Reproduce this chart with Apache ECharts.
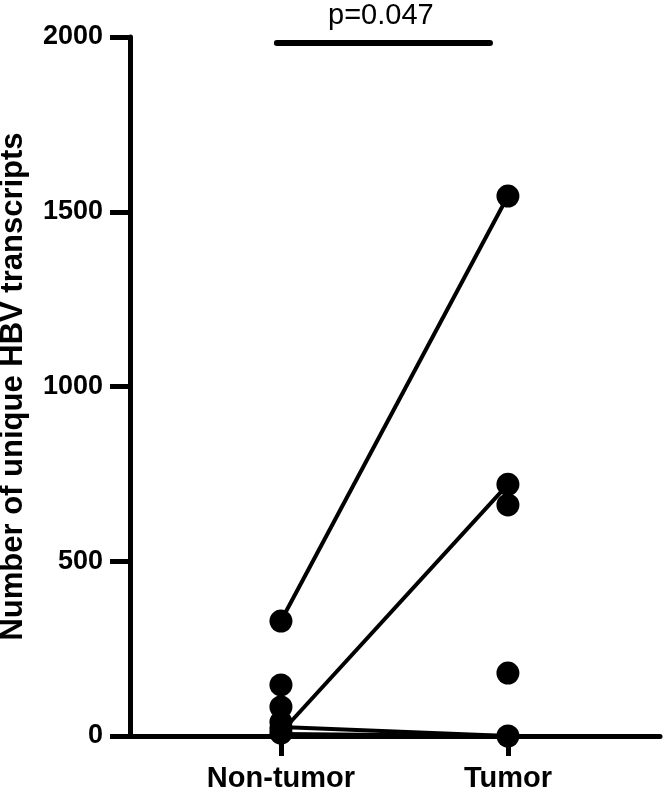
<!DOCTYPE html>
<html>
<head>
<meta charset="utf-8">
<script src="https://cdn.jsdelivr.net/npm/echarts@6/dist/echarts.min.js"></script>
<style>html,body{margin:0;padding:0;background:#fff}#c{width:663px;height:789px}</style>
</head>
<body>
<div id="c"></div>
<script>
const categories = ['Non-tumor', 'Tumor'];
const nonTumorValues = [329, 146, 83, 40, 22, 8];
const tumorValues = [1545, 720, 661, 180, 0];
const pairedNonTumor = [329, 10, 26, 6];
const pairedTumor = [1545, 720, 0, 0];
const yTicks = [0, 500, 1000, 1500, 2000];
const pValueText = 'p=0.047';
const sigBarY = 1983;

const font = "'Liberation Sans', Arial, sans-serif";
const chart = echarts.init(document.getElementById('c'));

const series = [];
pairedNonTumor.forEach((v, i) => {
  series.push({
    type: 'line', data: [[1, v], [2, pairedTumor[i]]],
    symbol: 'none', lineStyle: { color: '#000', width: 4 }, z: 3, clip: false, silent: true
  });
});
series.push({
  type: 'scatter', data: nonTumorValues.map(v => [1, v]),
  symbolSize: 23, itemStyle: { color: '#000', opacity: 1 }, z: 4, clip: false
});
series.push({
  type: 'scatter', data: tumorValues.map(v => [2, v]),
  symbolSize: 23, itemStyle: { color: '#000', opacity: 1 }, z: 4, clip: false,
  markLine: {
    silent: true, symbol: ['none', 'none'], label: { show: false },
    lineStyle: { color: '#000', width: 6, type: 'solid', cap: 'round', opacity: 1 },
    data: [[{ coord: [0.982, sigBarY] }, { coord: [1.921, sigBarY] }]]
  }
});

chart.setOption({
  animation: false,
  title: {
    text: pValueText, left: 328, top: 1, padding: 0,
    textStyle: { fontFamily: font, fontSize: 29, fontWeight: 'normal', color: '#000' }
  },
  grid: { left: 130, right: 3, top: 37, bottom: 53, containLabel: false, outerBoundsMode: 'none' },
  xAxis: {
    type: 'value', min: 0.335, max: 2.67,
    axisLine: { onZero: false, lineStyle: { color: '#000', width: 5 } },
    axisTick: { show: true, customValues: [1, 2], length: 20, lineStyle: { color: '#000', width: 5 } },
    axisLabel: {
      customValues: [1, 2], margin: 28,
      formatter: v => categories[Math.round(v) - 1] || '',
      fontFamily: font, fontSize: 29, fontWeight: 'bold', color: '#000'
    },
    splitLine: { show: false }
  },
  yAxis: {
    type: 'value', min: yTicks[0], max: yTicks[yTicks.length - 1], interval: 500,
    name: 'Number of unique HBV transcripts', nameLocation: 'middle', nameRotate: 90, nameGap: 101,
    nameTextStyle: { fontFamily: font, fontSize: 31, fontWeight: 'bold', color: '#000' },
    axisLine: { show: true, onZero: false, lineStyle: { color: '#000', width: 5 } },
    axisTick: { show: true, length: 20, lineStyle: { color: '#000', width: 5 } },
    axisLabel: { margin: 27, fontFamily: font, fontSize: 27, fontWeight: 'bold', color: '#000', formatter: v => String(v) },
    splitLine: { show: false }
  },
  series: series
});
</script>
</body>
</html>
